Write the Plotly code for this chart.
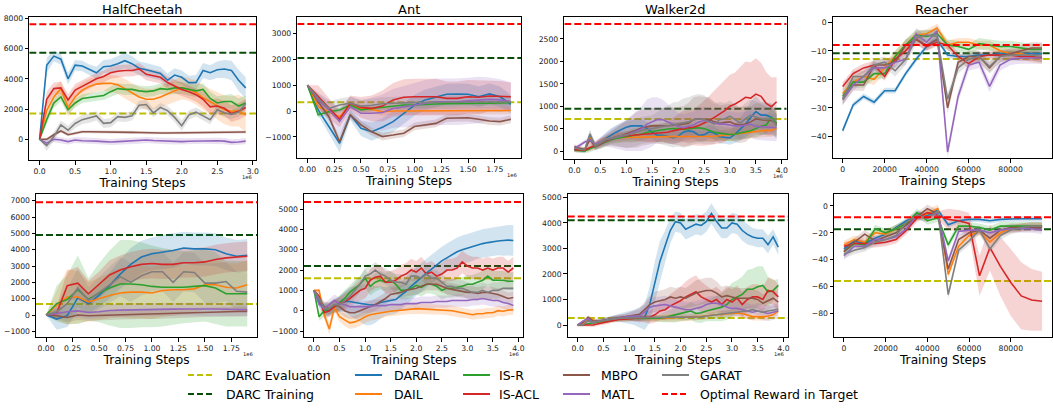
import plotly.graph_objects as go

W, H = 1053, 408

# ---------------------------------------------------------------- series
SERIES = ["DARAIL", "DAIL", "IS-R", "IS-ACL", "MBPO", "MATL", "GARAT"]
SERIES_COLORS = {
    "DARAIL": "#1f77b4", "DAIL": "#ff7f0e", "IS-R": "#2ca02c", "IS-ACL": "#d62728",
    "MBPO": "#8c564b", "MATL": "#9467bd", "GARAT": "#7f7f7f",
}
REF_NAMES = ["DARC Evaluation", "DARC Training", "Optimal Reward in Target"]
REF_COLORS = {"DARC Evaluation": "#bfbf00", "DARC Training": "#0a4d0a",
              "Optimal Reward in Target": "#ff0000"}

# ---------------------------------------------------------------- x grids
STEPS_20 = [0.0, 0.1, 0.2, 0.3, 0.4, 0.5, 0.6, 0.7, 0.8, 0.9, 1.0, 1.1, 1.2, 1.3, 1.4, 1.5, 1.6, 1.7, 1.8, 1.9]
STEPS_30 = [0.0, 0.1, 0.2, 0.3, 0.4, 0.5, 0.6, 0.7, 0.8, 0.9, 1.0, 1.1, 1.2, 1.3, 1.4, 1.5, 1.6, 1.7, 1.8, 1.9,
            2.0, 2.1, 2.2, 2.3, 2.4, 2.5, 2.6, 2.7, 2.8, 2.9]
STEPS_40 = [0.0, 0.1, 0.2, 0.3, 0.4, 0.5, 0.6, 0.7, 0.8, 0.9, 1.0, 1.1, 1.2, 1.3, 1.4, 1.5, 1.6, 1.7, 1.8, 1.9,
            2.0, 2.1, 2.2, 2.3, 2.4, 2.5, 2.6, 2.7, 2.8, 2.9, 3.0, 3.1, 3.2, 3.3, 3.4, 3.5, 3.6, 3.7, 3.8, 3.9]
REACHER_STEPS = [0, 5000, 10000, 15000, 20000, 25000, 30000, 35000, 40000, 45000, 50000, 55000, 60000,
                 65000, 70000, 75000, 80000, 85000, 90000, 95000]

# ---------------------------------------------------------------- HalfCheetah (top)
HC1_MEAN = {
    "DARAIL": [0, 4900, 5500, 5300, 4000, 4900, 4850, 4600, 4400, 4800, 4850, 5000, 5200, 5000, 4700, 4600, 4450, 4350, 3900, 4250, 4100, 3750, 3750, 4550, 4400, 4600, 4650, 4550, 3900, 3400],
    "DAIL": [0, 1900, 2800, 3350, 2100, 2800, 3250, 3500, 3650, 3700, 3700, 3600, 3350, 3050, 2800, 2650, 2650, 2800, 3000, 3200, 3400, 3300, 3100, 2750, 2500, 2200, 1950, 1850, 1900, 1600],
    "IS-R": [0, 1300, 2400, 2800, 1950, 2400, 2700, 2750, 2850, 2900, 3150, 3350, 3300, 3300, 3200, 3150, 3200, 3350, 3300, 3400, 3400, 3300, 3200, 3300, 2700, 2400, 2500, 2500, 2200, 2400],
    "IS-ACL": [0, 2650, 3350, 3400, 2600, 3250, 3500, 3750, 4000, 4150, 4400, 4500, 4550, 4550, 4650, 4300, 4200, 4100, 3750, 3500, 3300, 3150, 2950, 2650, 2150, 2200, 2050, 1700, 1850, 2100],
    "MBPO": [0, 0, 300, 550, 300, 400, 500, 500, 500, 500, 480, 480, 470, 460, 450, 430, 420, 420, 420, 430, 440, 450, 450, 460, 470, 470, 470, 480, 480, 480],
    "MATL": [0, -250, 0, -50, -150, -50, -100, -100, -120, -150, -180, -150, -120, -130, -100, -50, -80, -100, -120, -140, -150, -130, -110, -100, -100, -100, -120, -200, -180, -120],
    "GARAT": [0, -420, 180, 950, 600, 1050, 1300, 1400, 1550, 1050, 1100, 1500, 1450, 1550, 2250, 2300, 1750, 2100, 1900, 1450, 900, 1600, 1800, 1550, 1300, 1950, 1750, 1650, 1800, 2350],
}
HC1_STD = {
    "DARAIL": [0, 500, 350, 350, 400, 350, 350, 350, 400, 450, 450, 500, 500, 500, 450, 450, 450, 450, 450, 450, 450, 450, 500, 500, 500, 550, 600, 650, 700, 700],
    "DAIL": [0, 600, 600, 500, 600, 600, 500, 500, 500, 500, 550, 600, 650, 650, 650, 700, 700, 700, 700, 750, 750, 750, 800, 800, 850, 900, 950, 1000, 1050, 1100],
    "IS-R": [0, 300, 350, 300, 300, 300, 300, 300, 300, 300, 350, 350, 350, 350, 350, 350, 350, 350, 350, 400, 400, 400, 400, 400, 450, 450, 450, 500, 500, 500],
    "IS-ACL": [0, 500, 400, 400, 400, 400, 400, 400, 400, 400, 400, 400, 400, 400, 400, 400, 400, 400, 400, 450, 450, 450, 450, 500, 500, 500, 500, 550, 550, 550],
    "MBPO": [0, 100, 100, 100, 100, 100, 100, 100, 100, 100, 100, 100, 100, 100, 100, 100, 100, 100, 100, 100, 100, 100, 100, 100, 100, 100, 100, 100, 100, 100],
    "MATL": [0, 200, 200, 200, 200, 200, 200, 200, 200, 200, 200, 200, 200, 200, 200, 200, 200, 200, 200, 200, 200, 200, 200, 200, 200, 200, 200, 200, 200, 200],
    "GARAT": [0, 350, 300, 300, 300, 300, 300, 300, 300, 300, 300, 300, 300, 300, 300, 300, 300, 300, 300, 300, 350, 300, 300, 300, 300, 300, 300, 300, 300, 300],
}
HC1_REF = {"DARC Evaluation": 1700, "DARC Training": 5720, "Optimal Reward in Target": 7600}

# ---------------------------------------------------------------- Ant (top)
ANT1_MEAN = {
    "DARAIL": [1000, 40, -600, -1250, -150, -670, -800, -630, -410, -90, 230, 430, 550, 650, 660, 650, 550, 660, 550, 260],
    "DAIL": [1000, 170, -30, -220, 230, 100, 60, -30, 0, 0, 0, 10, 20, 20, 20, 20, 20, 20, 20, 20],
    "IS-R": [1000, -150, -30, 40, 230, 40, 100, 140, 170, 230, 230, 260, 270, 280, 280, 280, 290, 300, 310, 320],
    "IS-ACL": [1000, 550, 100, -320, 300, 140, 100, 190, 430, 530, 550, 550, 550, 490, 490, 550, 530, 580, 560, 550],
    "MBPO": [1000, 360, -220, -1190, -150, -540, -800, -990, -930, -860, -600, -540, -480, -280, -260, -260, -320, -390, -410, -320],
    "MATL": [1000, 430, 40, -410, 170, -90, -90, -60, 100, 170, 230, 300, 360, 360, 360, 390, 430, 450, 430, 360],
    "GARAT": [1000, 490, 100, 230, 300, 190, 220, 280, 300, 320, 330, 330, 340, 340, 340, 350, 350, 350, 340, 350],
}
ANT1_STD = {
    "DARAIL": [0, 200, 300, 350, 200, 300, 350, 350, 400, 400, 400, 400, 400, 400, 400, 400, 400, 400, 400, 350],
    "DAIL": [0, 150, 150, 150, 150, 150, 150, 150, 150, 150, 150, 150, 150, 150, 150, 150, 150, 150, 150, 150],
    "IS-R": [0, 100, 100, 100, 100, 100, 100, 100, 100, 100, 100, 100, 100, 100, 100, 100, 100, 100, 100, 100],
    "IS-ACL": [0, 450, 400, 300, 300, 400, 500, 600, 650, 700, 700, 700, 700, 650, 650, 650, 650, 600, 600, 550],
    "MBPO": [0, 150, 150, 150, 150, 150, 150, 150, 150, 150, 150, 150, 150, 150, 150, 150, 150, 150, 150, 150],
    "MATL": [0, 300, 400, 500, 400, 500, 600, 700, 750, 800, 850, 900, 900, 900, 900, 900, 900, 850, 800, 750],
    "GARAT": [0, 200, 250, 250, 250, 250, 250, 250, 250, 250, 250, 250, 250, 250, 250, 250, 250, 250, 250, 250],
}
ANT1_REF = {"DARC Evaluation": 335, "DARC Training": 2050, "Optimal Reward in Target": 3370}

# ---------------------------------------------------------------- Walker2d (top)
WK1_MEAN = {
    "DARAIL": [30, 20, 10, 350, 100, 200, 280, 350, 420, 480, 530, 560, 560, 560, 500, 420, 350, 350, 330, 300, 330, 420, 450, 430, 350, 360, 430, 400, 320, 310, 290, 380, 480, 600, 750, 880, 800, 800, 750, 570],
    "DAIL": [50, 30, 20, 300, 120, 200, 260, 290, 300, 300, 300, 305, 310, 310, 315, 320, 320, 320, 320, 320, 320, 320, 320, 320, 320, 320, 320, 330, 340, 355, 370, 385, 400, 415, 430, 445, 460, 460, 460, 510],
    "IS-R": [20, 10, 0, 50, 100, 150, 200, 250, 280, 300, 320, 340, 360, 380, 420, 440, 460, 480, 490, 500, 500, 480, 500, 510, 520, 500, 460, 420, 400, 380, 370, 380, 400, 420, 450, 500, 550, 580, 750, 620],
    "IS-ACL": [30, 20, 20, 80, 120, 180, 230, 280, 320, 330, 340, 350, 360, 370, 380, 390, 400, 410, 420, 450, 480, 500, 520, 530, 570, 620, 680, 750, 820, 900, 1000, 1050, 1120, 1200, 1180, 1270, 1220, 1060, 990, 1100],
    "MBPO": [100, 60, 40, 250, 100, 150, 220, 270, 310, 340, 380, 420, 470, 520, 540, 560, 560, 560, 570, 570, 580, 600, 620, 700, 720, 710, 700, 650, 620, 640, 650, 600, 580, 600, 650, 720, 700, 680, 680, 600],
    "MATL": [50, 120, 200, 250, 150, 200, 250, 280, 310, 330, 350, 400, 450, 500, 600, 650, 700, 700, 650, 600, 550, 520, 550, 580, 650, 680, 650, 620, 600, 600, 580, 560, 560, 580, 600, 550, 540, 540, 530, 520],
    "GARAT": [80, 40, 30, 380, 110, 180, 250, 290, 320, 340, 360, 380, 420, 460, 480, 500, 520, 540, 560, 580, 600, 620, 650, 700, 720, 700, 650, 600, 700, 720, 780, 700, 620, 720, 800, 760, 720, 700, 720, 570],
}
WK1_STD = {
    "DARAIL": [50, 50, 50, 100, 80, 100, 120, 150, 150, 150, 150, 150, 150, 150, 150, 150, 150, 150, 150, 150, 150, 150, 150, 150, 150, 150, 150, 150, 150, 150, 150, 200, 250, 300, 350, 350, 300, 300, 300, 250],
    "DAIL": [50, 50, 50, 80, 80, 80, 80, 100, 100, 100, 100, 100, 100, 100, 100, 100, 100, 100, 100, 100, 100, 100, 100, 100, 100, 100, 100, 110, 120, 130, 140, 150, 150, 150, 150, 150, 150, 150, 150, 150],
    "IS-R": [50, 50, 50, 80, 80, 100, 100, 100, 120, 120, 120, 150, 150, 150, 150, 150, 150, 150, 150, 150, 150, 150, 150, 150, 150, 150, 150, 150, 150, 150, 150, 150, 150, 150, 150, 200, 200, 200, 200, 200],
    "IS-ACL": [50, 50, 50, 80, 80, 100, 100, 100, 100, 100, 100, 100, 120, 150, 180, 200, 200, 200, 250, 300, 350, 400, 400, 400, 450, 500, 550, 600, 650, 700, 700, 700, 750, 800, 800, 800, 750, 700, 650, 550],
    "MBPO": [50, 50, 50, 100, 80, 100, 120, 150, 200, 250, 300, 350, 400, 400, 400, 400, 400, 400, 400, 400, 400, 400, 450, 500, 500, 500, 500, 450, 400, 400, 400, 400, 400, 400, 350, 350, 350, 300, 300, 300],
    "MATL": [50, 50, 50, 80, 80, 100, 150, 200, 250, 300, 350, 400, 450, 500, 550, 550, 500, 450, 400, 350, 300, 300, 300, 300, 300, 300, 300, 300, 300, 300, 300, 300, 300, 300, 300, 300, 300, 300, 300, 300],
    "GARAT": [50, 50, 50, 100, 80, 100, 120, 150, 200, 250, 300, 300, 300, 300, 300, 300, 350, 400, 450, 500, 500, 550, 550, 550, 550, 550, 500, 450, 400, 350, 350, 350, 350, 350, 350, 350, 350, 350, 350, 300],
}
WK1_REF = {"DARC Evaluation": 714, "DARC Training": 945, "Optimal Reward in Target": 2835}

# ---------------------------------------------------------------- Reacher (top)
RE1_MEAN = {
    "DARAIL": [-38, -29, -26, -28, -24, -24, -18, -13, -8.5, -6, -11.5, -12, -12, -11.5, -11.5, -11, -11, -11, -11, -11],
    "DAIL": [-25, -21, -19, -20, -16, -12, -8, -4.5, -4, -2, -8, -7, -7, -8, -8, -10, -11, -11, -12, -12.5],
    "IS-R": [-26, -21, -21, -18, -18, -12, -8, -4.5, -5, -4, -8, -8.5, -9.5, -7.5, -8, -8.5, -8.5, -9, -9.5, -9.5],
    "IS-ACL": [-22.5, -18, -16, -15, -19, -13, -10, -6, -8.5, -7, -8, -12, -14.5, -12, -11.5, -11.5, -11.5, -12, -12, -12.5],
    "MBPO": [-27, -22, -22, -15, -15, -14, -8, -6, -8, -6, -30, -14, -12, -12, -16, -12, -11, -10, -9, -9],
    "MATL": [-27, -22, -19, -16, -16, -14, -13, -4, -7, -3, -45.5, -26, -15, -14, -22.5, -15, -13, -12.5, -12.5, -12.5],
    "GARAT": [-27, -19, -19, -15, -14, -17, -13, -5.5, -4.5, -5, -27, -16, -13, -12, -15.5, -12, -11.5, -11.5, -11.5, -12],
}
RE1_STD = {
    "DARAIL": [1, 1, 1, 1, 1, 1, 1, 1, 1, 1, 1, 1, 1, 1, 1, 1, 1, 1, 1, 1],
    "DAIL": [2, 2, 2, 2, 2, 2, 2, 1.5, 1.5, 1.5, 1.5, 1.5, 1.5, 1.5, 1.5, 1.5, 1.5, 2, 2, 2],
    "IS-R": [2, 2, 2, 2, 2, 2, 2, 2, 2, 2, 2, 2, 2, 2, 2, 2, 2, 2, 2, 2],
    "IS-ACL": [1.5, 1.5, 1.5, 1.5, 1.5, 1.5, 1.5, 1.5, 1.5, 1.5, 1.5, 1.5, 1.5, 1.5, 1.5, 1.5, 1.5, 1.5, 1.5, 1.5],
    "MBPO": [2, 2, 2, 2, 2, 2, 2, 2, 2, 2, 2, 2, 2, 2, 2, 2, 2, 2, 2, 2],
    "MATL": [2, 2, 2, 2, 2, 2, 2, 2, 2, 2, 2, 2, 2, 2, 2, 2, 2, 2, 2, 2],
    "GARAT": [2, 2, 2, 2, 2, 2, 2, 2, 2, 2, 2, 2, 2, 2, 2, 2, 2, 2, 2, 2],
}
RE1_REF = {"DARC Evaluation": -12.9, "DARC Training": -10.9, "Optimal Reward in Target": -8.0}

# ---------------------------------------------------------------- HalfCheetah (bottom)
HC2_MEAN = {
    "DARAIL": [0, -250, -40, 1050, 700, 1200, 1800, 2500, 3100, 3550, 3750, 3850, 3950, 4100, 4050, 4050, 4000, 3750, 3600, 3650],
    "DAIL": [0, 600, 1100, 1100, 800, 1000, 1200, 1350, 1400, 1400, 1350, 1500, 1550, 1550, 1600, 1850, 1850, 1700, 1650, 1850],
    "IS-R": [0, 700, 950, 1550, 950, 1350, 1650, 1900, 1900, 1850, 1750, 1700, 1700, 1700, 1750, 1800, 1650, 1300, 1300, 1300],
    "IS-ACL": [0, 100, 1800, 1950, 1300, 1850, 2450, 2750, 2950, 3100, 3150, 3100, 3100, 3200, 3200, 3250, 3400, 3500, 3550, 3600],
    "MBPO": [0, -50, -150, 0, -50, -30, 0, 20, 50, 50, 50, 80, 100, 120, 150, 180, 200, 210, 210, 220],
    "MATL": [0, 100, 200, 250, 150, 200, 280, 300, 320, 330, 350, 350, 360, 370, 380, 380, 370, 350, 330, 320],
    "GARAT": [0, 200, 700, 1650, 900, 1350, 1850, 2350, 2000, 2400, 2650, 2650, 2000, 2650, 2600, 1950, 1950, 2050, 1450, 1400],
}
HC2_STD = {
    "DARAIL": [0, 650, 700, 800, 600, 700, 800, 900, 1000, 1000, 1000, 1050, 1050, 1000, 1000, 1000, 1000, 1000, 1000, 1000],
    "DAIL": [0, 900, 1700, 1600, 1200, 1300, 1400, 1500, 1600, 1600, 1600, 1600, 1600, 1500, 1500, 1500, 1500, 1500, 1500, 1500],
    "IS-R": [0, 1100, 1500, 2100, 1300, 1800, 2300, 2700, 2700, 2600, 2500, 2400, 2300, 2200, 2200, 2200, 2200, 2000, 2000, 2000],
    "IS-ACL": [0, 400, 900, 1000, 800, 800, 900, 900, 900, 900, 900, 900, 900, 900, 900, 900, 900, 900, 900, 900],
    "MBPO": [0, 200, 300, 300, 300, 300, 300, 300, 300, 300, 300, 300, 300, 300, 300, 300, 300, 300, 300, 300],
    "MATL": [0, 300, 400, 400, 400, 400, 400, 400, 400, 400, 400, 400, 400, 400, 400, 400, 400, 400, 400, 400],
    "GARAT": [0, 400, 900, 1200, 800, 1000, 1100, 1200, 1200, 1200, 1200, 1200, 1200, 1200, 1200, 1200, 1200, 1200, 1200, 1200],
}
HC2_REF = {"DARC Evaluation": 670, "DARC Training": 4900, "Optimal Reward in Target": 6900}

# ---------------------------------------------------------------- Ant (bottom)
ANT2_MEAN = {
    "DARAIL": [1000, 400, 50, 0, 200, 350, 450, 450, 400, 350, 300, 280, 300, 400, 450, 500, 550, 750, 950, 1200, 1430, 1650, 1850, 2050, 2250, 2450, 2600, 2750, 2900, 3000, 3080, 3150, 3250, 3300, 3350, 3400, 3430, 3450, 3470, 3450],
    "DAIL": [1000, 1000, -200, -900, 150, -300, -450, -600, -550, -450, -300, -200, -150, -100, -50, -30, 0, 30, 60, 90, 100, 90, 80, 60, 40, 50, 30, 0, -50, -100, -120, -200, -150, -150, -100, -100, 0, -30, 30, 50],
    "IS-R": [1000, -300, 0, 100, 200, 400, 600, 900, 1100, 1300, 1600, 1200, 1400, 1500, 1400, 1500, 1300, 1000, 1000, 1100, 1250, 1150, 1300, 1300, 1200, 1000, 1100, 1100, 1150, 1200, 1300, 1300, 1400, 1500, 1700, 1500, 1500, 1500, 1450, 1450],
    "IS-ACL": [1000, 700, -100, 0, 200, 350, 450, 600, 800, 1000, 1100, 1500, 1650, 1700, 1400, 1400, 1500, 1700, 1800, 2000, 1900, 2100, 1800, 1900, 1700, 1800, 2000, 2000, 2100, 2400, 2200, 2100, 2100, 2000, 2100, 2000, 2100, 2100, 1900, 2100],
    "MBPO": [1000, 600, 200, 100, 300, 200, 0, -100, -100, 0, 100, 200, 300, 450, 600, 800, 850, 900, 1000, 1050, 1100, 1200, 1300, 1300, 1300, 1200, 1100, 1050, 1000, 950, 900, 900, 850, 900, 900, 850, 800, 700, 600, 650],
    "MATL": [1000, 300, 100, 300, 500, 350, 300, 200, 200, 200, 200, 200, 250, 250, 250, 300, 300, 300, 350, 350, 350, 400, 400, 400, 450, 450, 450, 500, 500, 500, 500, 550, 550, 600, 550, 500, 500, 400, 350, 250],
    "GARAT": [1000, 600, 100, 100, 300, 300, 500, 700, 1000, 1300, 1700, 1800, 2000, 1800, 1700, 1500, 1400, 1400, 1300, 1700, 1700, 1600, 1800, 1600, 1600, 1400, 1200, 1200, 1100, 1100, 1000, 900, 900, 1000, 900, 1000, 1000, 1100, 1100, 1100],
}
ANT2_STD = {
    "DARAIL": [0, 200, 300, 300, 300, 400, 500, 700, 800, 900, 1000, 1000, 900, 800, 700, 700, 700, 700, 700, 700, 700, 700, 700, 700, 700, 700, 700, 700, 700, 700, 700, 700, 700, 700, 700, 700, 700, 750, 750, 750],
    "DAIL": [0, 100, 200, 300, 200, 250, 300, 300, 300, 300, 300, 300, 300, 300, 250, 250, 250, 250, 250, 250, 250, 250, 250, 250, 250, 250, 250, 250, 250, 250, 250, 250, 250, 250, 250, 250, 250, 250, 250, 250],
    "IS-R": [0, 200, 300, 300, 300, 350, 400, 400, 400, 400, 450, 450, 450, 450, 450, 450, 450, 450, 450, 450, 450, 450, 450, 450, 450, 450, 450, 450, 450, 450, 450, 450, 450, 450, 450, 450, 450, 450, 450, 450],
    "IS-ACL": [0, 200, 300, 300, 300, 350, 400, 400, 450, 500, 500, 550, 550, 550, 550, 550, 550, 550, 550, 550, 550, 550, 550, 550, 550, 550, 550, 550, 550, 550, 550, 550, 550, 550, 550, 550, 550, 550, 550, 550],
    "MBPO": [0, 200, 250, 300, 300, 300, 300, 300, 300, 300, 300, 300, 300, 300, 300, 300, 300, 300, 300, 300, 300, 300, 300, 300, 300, 300, 300, 300, 300, 300, 300, 300, 300, 300, 300, 300, 300, 300, 300, 300],
    "MATL": [0, 200, 250, 300, 300, 300, 300, 300, 300, 300, 300, 300, 300, 300, 300, 300, 300, 300, 300, 300, 300, 300, 300, 300, 300, 300, 300, 300, 300, 300, 300, 300, 300, 300, 300, 300, 300, 300, 300, 300],
    "GARAT": [0, 200, 300, 300, 300, 350, 400, 400, 400, 400, 400, 400, 400, 400, 400, 400, 400, 400, 400, 400, 400, 400, 400, 400, 400, 400, 400, 400, 400, 400, 400, 400, 400, 400, 400, 400, 400, 400, 400, 400],
}
ANT2_REF = {"DARC Evaluation": 1600, "DARC Training": 2200, "Optimal Reward in Target": 5350}

# ---------------------------------------------------------------- Walker2d (bottom)
WK2_MEAN = {
    "DARAIL": [0, 50, 200, 150, 150, 180, 220, 250, 280, 300, 300, 300, 300, 300, 800, 1700, 2500, 3100, 3700, 4050, 4000, 3750, 3850, 3950, 3900, 4050, 4370, 4050, 3800, 3800, 4000, 3950, 3700, 3550, 3450, 3400, 3400, 3150, 3450, 3050],
    "DAIL": [0, 50, 250, 200, 100, 150, 200, 230, 250, 260, 260, 270, 280, 270, 260, 260, 260, 270, 280, 290, 300, 300, 300, 320, 340, 360, 380, 400, 420, 450, 450, 470, 450, 380, 330, 330, 320, 350, 400, 550],
    "IS-R": [0, 0, 50, 100, 120, 150, 200, 230, 250, 260, 260, 260, 260, 260, 260, 260, 270, 300, 350, 400, 450, 480, 550, 450, 480, 550, 600, 650, 700, 800, 1000, 1100, 1200, 1400, 1400, 1500, 1550, 1300, 1350, 1550],
    "IS-ACL": [0, 0, -20, 0, 50, 100, 150, 200, 220, 230, 250, 270, 300, 300, 300, 400, 550, 600, 750, 850, 950, 1100, 1200, 1300, 1100, 1000, 900, 1000, 800, 1000, 900, 1050, 800, 1000, 1100, 1100, 1000, 1350, 1300, 1100],
    "MBPO": [0, 100, 300, 150, 150, 180, 220, 250, 300, 330, 350, 380, 420, 600, 800, 900, 950, 1000, 1100, 1050, 1100, 1050, 1150, 1250, 1300, 1350, 1350, 1250, 1100, 1150, 1100, 1050, 1050, 1050, 1050, 1000, 850, 950, 1050, 900],
    "MATL": [0, 150, 250, 100, 150, 180, 220, 250, 300, 320, 340, 350, 350, 500, 700, 750, 780, 800, 750, 700, 650, 600, 600, 650, 700, 800, 850, 850, 800, 700, 650, 650, 600, 550, 500, 550, 500, 450, 500, 550],
    "GARAT": [0, 0, 150, 120, 150, 180, 220, 250, 260, 270, 280, 290, 300, 300, 300, 300, 300, 300, 300, 300, 300, 300, 300, 300, 320, 350, 380, 400, 430, 450, 480, 500, 530, 550, 600, 550, 500, 550, 600, 620],
}
WK2_STD = {
    "DARAIL": [50, 50, 80, 80, 80, 100, 100, 100, 150, 200, 250, 300, 400, 500, 700, 800, 800, 600, 500, 400, 400, 400, 400, 400, 400, 400, 400, 400, 400, 400, 400, 400, 400, 400, 350, 350, 350, 350, 300, 300],
    "DAIL": [50, 50, 100, 100, 100, 100, 100, 100, 100, 120, 120, 120, 120, 120, 120, 120, 120, 150, 150, 150, 150, 150, 150, 150, 150, 150, 150, 150, 150, 150, 150, 150, 150, 150, 150, 150, 150, 150, 150, 150],
    "IS-R": [50, 50, 50, 80, 80, 100, 100, 100, 100, 100, 100, 100, 100, 100, 100, 120, 150, 200, 250, 300, 300, 300, 350, 350, 400, 400, 450, 500, 550, 600, 650, 650, 700, 750, 800, 800, 750, 600, 400, 250],
    "IS-ACL": [50, 50, 50, 80, 80, 100, 100, 100, 100, 100, 100, 100, 150, 200, 250, 300, 350, 400, 450, 500, 550, 600, 650, 650, 600, 550, 500, 500, 500, 500, 500, 500, 500, 500, 500, 500, 500, 500, 500, 500],
    "MBPO": [50, 50, 80, 80, 80, 100, 100, 100, 100, 100, 150, 200, 250, 300, 350, 400, 400, 400, 400, 400, 400, 400, 450, 500, 500, 500, 500, 450, 400, 400, 400, 400, 400, 400, 350, 350, 350, 350, 350, 350],
    "MATL": [50, 50, 80, 80, 80, 100, 100, 100, 100, 100, 150, 200, 250, 300, 350, 350, 350, 350, 300, 300, 300, 300, 300, 300, 300, 300, 300, 300, 300, 300, 300, 300, 300, 300, 300, 300, 300, 300, 300, 300],
    "GARAT": [50, 50, 80, 80, 80, 100, 100, 100, 100, 100, 100, 100, 100, 100, 100, 100, 100, 100, 100, 100, 100, 100, 100, 100, 100, 100, 120, 120, 120, 150, 150, 150, 150, 150, 150, 150, 150, 150, 150, 150],
}
WK2_REF = {"DARC Evaluation": 274, "DARC Training": 4100, "Optimal Reward in Target": 4250}

# ---------------------------------------------------------------- Reacher (bottom)
RE2_MEAN = {
    "DARAIL": [-32, -26, -28, -24, -21, -16, -11, -8, -7, -3, -14, -11, -10, -10, -11, -10, -9.5, -9.5, -9.5, -9.5],
    "DAIL": [-29, -25, -27, -20, -21, -17, -13, -8, -6, -2, -51, -30, -22, -19, -27, -20, -17, -16, -15, -15],
    "IS-R": [-34, -28, -29, -17, -20, -17, -13, -5, -11, -9, -29, -15, -15, -16, -18, -15, -15, -15, -15, -15],
    "IS-ACL": [-30, -28, -28, -28, -27, -25, -18, -9, -5, -7, -10, -11, -13, -52, -31, -45, -57, -67, -70, -71],
    "MBPO": [-34, -27, -21, -26, -23, -20, -14, -8, -2, -6, -47, -25, -20, -18, -24, -18, -16, -16, -16, -16],
    "MATL": [-37, -30, -30, -25, -25, -23, -17, -7, -9, -5, -41, -19, -18, -18, -20, -18, -17, -17, -17, -18],
    "GARAT": [-36, -33, -31, -27, -25, -22, -12, -7, -9, -4, -66, -33, -26, -18, -32, -22, -18, -16, -15, -15],
}
RE2_STD = {
    "DARAIL": [2, 2, 2, 2, 2, 2, 2, 2, 2, 2, 2, 2, 2, 2, 2, 2, 2, 2, 2, 2],
    "DAIL": [3, 3, 3, 3, 3, 3, 3, 3, 3, 3, 3, 3, 3, 3, 3, 3, 3, 3, 3, 3],
    "IS-R": [3, 3, 3, 3, 3, 3, 3, 3, 3, 3, 3, 3, 3, 3, 3, 3, 3, 3, 3, 3],
    "IS-ACL": [3, 3, 3, 3, 3, 3, 3, 3, 3, 3, 8, 8, 8, 15, 17, 22, 25, 25, 23, 22],
    "MBPO": [3, 3, 3, 3, 3, 3, 3, 3, 3, 3, 3, 3, 3, 3, 3, 3, 3, 3, 3, 3],
    "MATL": [3, 3, 3, 3, 3, 3, 3, 3, 3, 3, 3, 3, 3, 3, 3, 3, 3, 3, 3, 3],
    "GARAT": [3, 3, 3, 3, 3, 3, 3, 3, 3, 3, 3, 3, 3, 3, 3, 3, 3, 3, 3, 3],
}
RE2_REF = {"DARC Evaluation": -55.9, "DARC Training": -17.4, "Optimal Reward in Target": -8.4}

# ---------------------------------------------------------------- tick labels
X_TICKS_3 = ([0, 0.5, 1.0, 1.5, 2.0, 2.5, 3.0], ["0.0", "0.5", "1.0", "1.5", "2.0", "2.5", "3.0"])
X_TICKS_175 = ([0, 0.25, 0.5, 0.75, 1.0, 1.25, 1.5, 1.75], ["0.00", "0.25", "0.50", "0.75", "1.00", "1.25", "1.50", "1.75"])
X_TICKS_4 = ([0, 0.5, 1.0, 1.5, 2.0, 2.5, 3.0, 3.5, 4.0], ["0.0", "0.5", "1.0", "1.5", "2.0", "2.5", "3.0", "3.5", "4.0"])
X_TICKS_RE = ([0, 20000, 40000, 60000, 80000], ["0", "20000", "40000", "60000", "80000"])


def yt(vals):
    return (vals, [("\u2212" + str(-v)) if v < 0 else str(v) for v in vals])


# panel: title, steps, mean, std, ref, x-domain px, y-domain px (top, bottom), xrange, yrange, xticks, yticks, 1e6
PANELS = [
    ("HalfCheetah", STEPS_30, HC1_MEAN, HC1_STD, HC1_REF, (29.3, 256), (17.3, 160), (-0.145, 3.045), (-1368, 8066), X_TICKS_3, yt([0, 2000, 4000, 6000, 8000]), True),
    ("Ant", STEPS_20, ANT1_MEAN, ANT1_STD, ANT1_REF, (297.3, 521), (17.3, 158.3), (-0.095, 1.995), (-1831, 3627), X_TICKS_175, yt([-1000, 0, 1000, 2000, 3000]), True),
    ("Walker2d", STEPS_40, WK1_MEAN, WK1_STD, WK1_REF, (564.3, 786.7), (17.3, 159.3), (-0.195, 4.095), (-185, 2984), X_TICKS_4, yt([0, 500, 1000, 1500, 2000, 2500]), True),
    ("Reacher", REACHER_STEPS, RE1_MEAN, RE1_STD, RE1_REF, (832.7, 1052), (17.3, 158.3), (-4750, 99750), (-47.7, 1.75), X_TICKS_RE, yt([-40, -30, -20, -10, 0]), False),
    ("", STEPS_20, HC2_MEAN, HC2_STD, HC2_REF, (36, 257.3), (194, 337), (-0.095, 1.995), (-1347, 7409), X_TICKS_175, yt([-1000, 0, 1000, 2000, 3000, 4000, 5000, 6000, 7000]), True),
    ("", STEPS_40, ANT2_MEAN, ANT2_STD, ANT2_REF, (304, 523.3), (194, 337), (-0.195, 4.095), (-1294, 5740), X_TICKS_4, yt([-1000, 0, 1000, 2000, 3000, 4000, 5000]), True),
    ("", STEPS_40, WK2_MEAN, WK2_STD, WK2_REF, (567.7, 788.3), (194, 337), (-0.195, 4.095), (-470, 5131), X_TICKS_4, yt([0, 1000, 2000, 3000, 4000, 5000]), True),
    ("", REACHER_STEPS, RE2_MEAN, RE2_STD, RE2_REF, (834, 1052), (194, 337), (-4750, 99750), (-97.6, 8.9), X_TICKS_RE, yt([-80, -60, -40, -20, 0]), False),
]

FONT = "DejaVu Sans"


def rgba(hexc, a):
    h = hexc.lstrip("#")
    return "rgba(%d,%d,%d,%s)" % (int(h[0:2], 16), int(h[2:4], 16), int(h[4:6], 16), a)


fig = go.Figure()
layout = dict(
    width=W, height=H, margin=dict(l=0, r=0, t=0, b=0),
    paper_bgcolor="white", plot_bgcolor="white", showlegend=False,
    font=dict(family=FONT, color="#000"),
)
annotations = []
shapes = []

for i, (title, steps, mean, std, ref, xd, ydp, xr, yr, xt, ytk, e6) in enumerate(PANELS):
    k = "" if i == 0 else str(i + 1)
    xa, ya = "x" + k, "y" + k
    axis_common = dict(showline=True, mirror=True, linecolor="black", linewidth=1,
                       ticks="outside", ticklen=3.5, tickwidth=0.8, tickcolor="black",
                       showgrid=False, zeroline=False, automargin=False,
                       tickfont=dict(family=FONT, size=7.7, color="#222"))
    layout["xaxis" + k] = dict(axis_common, domain=[xd[0] / W, xd[1] / W], anchor=ya, range=list(xr),
                               tickmode="array", tickvals=xt[0], ticktext=xt[1],
                               title=dict(text="Training Steps", font=dict(family=FONT, size=12.2, color="#000"), standoff=0))
    layout["yaxis" + k] = dict(axis_common, domain=[1 - ydp[1] / H, 1 - ydp[0] / H], anchor=xa, range=list(yr),
                               tickmode="array", tickvals=ytk[0], ticktext=ytk[1])
    # reference lines (DARC eval / training below curves)
    for rn in REF_NAMES[:2]:
        fig.add_trace(go.Scatter(x=[xr[0], xr[1]], y=[ref[rn], ref[rn]], mode="lines", xaxis=xa, yaxis=ya,
                                 line=dict(color=REF_COLORS[rn], width=2, dash="7px,3px"), hoverinfo="skip"))
    # std bands
    for s in SERIES:
        m, sd = mean[s], std[s]
        up = [a + b for a, b in zip(m, sd)]
        lo = [a - b for a, b in zip(m, sd)]
        fig.add_trace(go.Scatter(x=list(steps) + list(steps)[::-1], y=up + lo[::-1], xaxis=xa, yaxis=ya,
                                 mode="lines", fill="toself", fillcolor=rgba(SERIES_COLORS[s], 0.2),
                                 line=dict(width=0), hoverinfo="skip"))
    for s in SERIES:
        fig.add_trace(go.Scatter(x=steps, y=mean[s], xaxis=xa, yaxis=ya, mode="lines", name=s,
                                 line=dict(color=SERIES_COLORS[s], width=1.6)))
    rn = REF_NAMES[2]
    fig.add_trace(go.Scatter(x=[xr[0], xr[1]], y=[ref[rn], ref[rn]], mode="lines", xaxis=xa, yaxis=ya,
                             line=dict(color=REF_COLORS[rn], width=2, dash="7px,3px"), hoverinfo="skip"))
    if title:
        annotations.append(dict(text=title, xref="paper", yref="paper", x=(xd[0] + xd[1]) / 2 / W,
                                y=1 - 9.5 / H, xanchor="center", yanchor="middle", showarrow=False,
                                font=dict(family=FONT, size=13, color="#000")))
    if e6:
        annotations.append(dict(text="1e6", xref=xa + " domain", yref=ya + " domain", x=1, y=0,
                                xanchor="right", yanchor="middle", xshift=-2, yshift=-17, showarrow=False,
                                font=dict(family=FONT, size=5.2, color="#222")))

# ---------------------------------------------------------------- manual legend (2 rows x 5 columns)
LEGEND_ITEMS = [
    ("DARC Evaluation", REF_COLORS["DARC Evaluation"], True),
    ("DARC Training", REF_COLORS["DARC Training"], True),
    ("DARAIL", SERIES_COLORS["DARAIL"], False),
    ("DAIL", SERIES_COLORS["DAIL"], False),
    ("IS-R", SERIES_COLORS["IS-R"], False),
    ("IS-ACL", SERIES_COLORS["IS-ACL"], False),
    ("MBPO", SERIES_COLORS["MBPO"], False),
    ("MATL", SERIES_COLORS["MATL"], False),
    ("GARAT", SERIES_COLORS["GARAT"], False),
    ("Optimal Reward in Target", REF_COLORS["Optimal Reward in Target"], True),
]
COL_LINE_X = [188, 355, 463, 563, 662]
COL_TEXT_X = [224, 392, 497, 599, 698]
ROW_Y = [375, 394]
for j, (name, col, dashed) in enumerate(LEGEND_ITEMS):
    c, r = j // 2, j % 2
    yy = 1 - ROW_Y[r] / H
    shapes.append(dict(type="line", xref="paper", yref="paper", x0=COL_LINE_X[c] / W, x1=(COL_LINE_X[c] + 27) / W,
                       y0=yy, y1=yy, line=dict(color=col, width=2, dash="6px,3px" if dashed else "solid")))
    annotations.append(dict(text=name, xref="paper", yref="paper", x=COL_TEXT_X[c] / W, y=yy,
                            xanchor="left", yanchor="middle", showarrow=False,
                            font=dict(family=FONT, size=12.5, color="#000")))

layout["annotations"] = annotations
layout["shapes"] = shapes
fig.update_layout(**layout)
fig.write_html("out.html")
